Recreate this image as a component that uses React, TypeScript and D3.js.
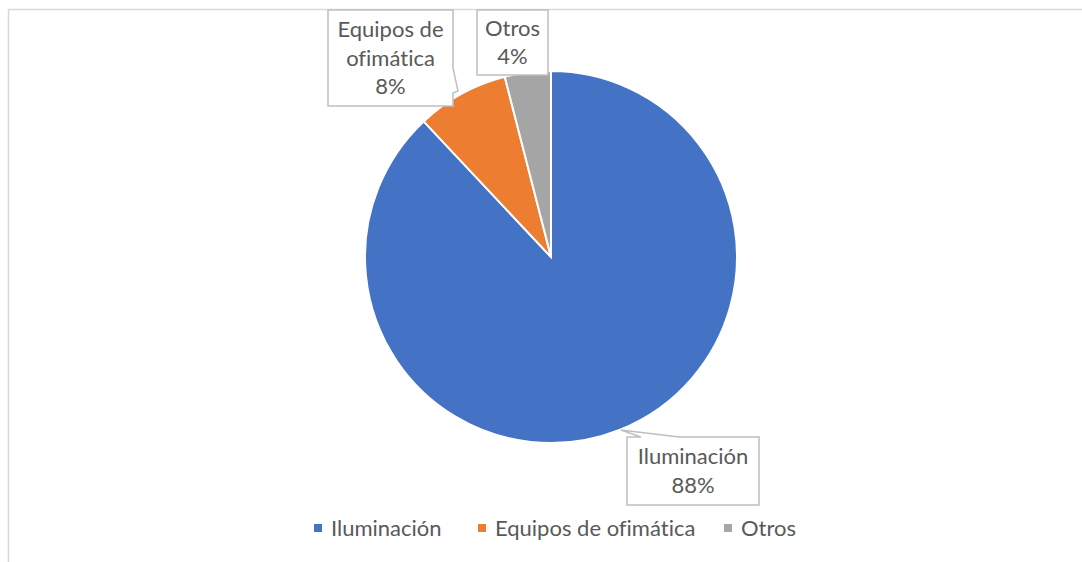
import React from "react";
import * as d3 from "d3";

const categories = ["Iluminación", "Equipos de ofimática", "Otros"];
const values = [88, 8, 4];
const colors = ["#4472C4", "#ED7D31", "#A5A5A5"];
const labelLines = [["Iluminación", "88%"], ["Equipos de", "ofimática", "8%"], ["Otros", "4%"]];

// label box placement relative to pie center (cx, cy)
const labelBoxes = [
  { dx: 76, dy: 180, w: 132, h: 68, tail: "top" },
  { dx: -223, dy: -247, w: 125, h: 96, tail: "right" },
  { dx: -74, dy: -247, w: 71, h: 65, tail: "none" }
];

export default function App() {
  const W = 1082;
  const H = 562;
  const cx = 551;
  const cy = 257;
  const r = 186;

  const pie = d3.pie<number>().sort(null).value((d) => d);
  const arcs = pie(values);
  const arc = d3.arc<d3.PieArcDatum<number>>().innerRadius(0).outerRadius(r);

  const font = "Lato, 'Open Sans', sans-serif";
  const txt = "#595959";
  const lh = 28.5;

  const legendX = [314, 478, 724];

  return (
    <svg width={W} height={H} style={{ position: "absolute", left: 0, top: 0, fontVariantLigatures: "none" }}>
      <rect x={0} y={0} width={W} height={H} fill="#fff" />
      <path d={`M8.5,${H} V9.5 H${W}`} fill="none" stroke="#d9d9d9" strokeWidth={1.5} />

      <g transform={`translate(${cx},${cy})`}>
        {arcs.map((a, i) => (
          <path key={i} d={arc(a) ?? ""} fill={colors[i]} stroke="#fff" strokeWidth={2} />
        ))}

        {labelBoxes.map((b, i) => {
          const x0 = b.dx;
          const y0 = b.dy;
          const x1 = x0 + b.w;
          const y1 = y0 + b.h;
          let d = "";
          if (b.tail === "top") {
            d = `M${x0},${y0} L${x0 + 14},${y0} L${x0 - 6},${y0 - 7} L${x0 + 52},${y0} L${x1},${y0} L${x1},${y1} L${x0},${y1} Z`;
          } else if (b.tail === "right") {
            d = `M${x0},${y0} L${x1},${y0} L${x1},${y0 + 58} L${x1 + 5},${y0 + 81} L${x1},${y0 + 83} L${x1},${y1} L${x0},${y1} Z`;
          } else {
            d = `M${x0},${y0} L${x1},${y0} L${x1},${y1} L${x0},${y1} Z`;
          }
          const lines = labelLines[i];
          const startY = y0 + b.h / 2 - ((lines.length - 1) * lh) / 2;
          return (
            <g key={i}>
              <path d={d} fill="#fff" stroke="#bfbfbf" strokeWidth={1.5} />
              {lines.map((t, j) => (
                <text
                  key={j}
                  x={x0 + b.w / 2}
                  y={startY + j * lh}
                  dy="0.35em"
                  textAnchor="middle"
                  fontFamily={font}
                  fontSize={22}
                  fill={txt}
                >
                  {t}
                </text>
              ))}
            </g>
          );
        })}
      </g>

      {categories.map((c, i) => (
        <g key={c} transform={`translate(${legendX[i]},528)`}>
          <rect x={0} y={-4} width={8} height={8} fill={colors[i]} />
          <text x={17} y={0} dy="0.35em" fontFamily={font} fontSize={22} fill={txt}>
            {c}
          </text>
        </g>
      ))}
    </svg>
  );
}
